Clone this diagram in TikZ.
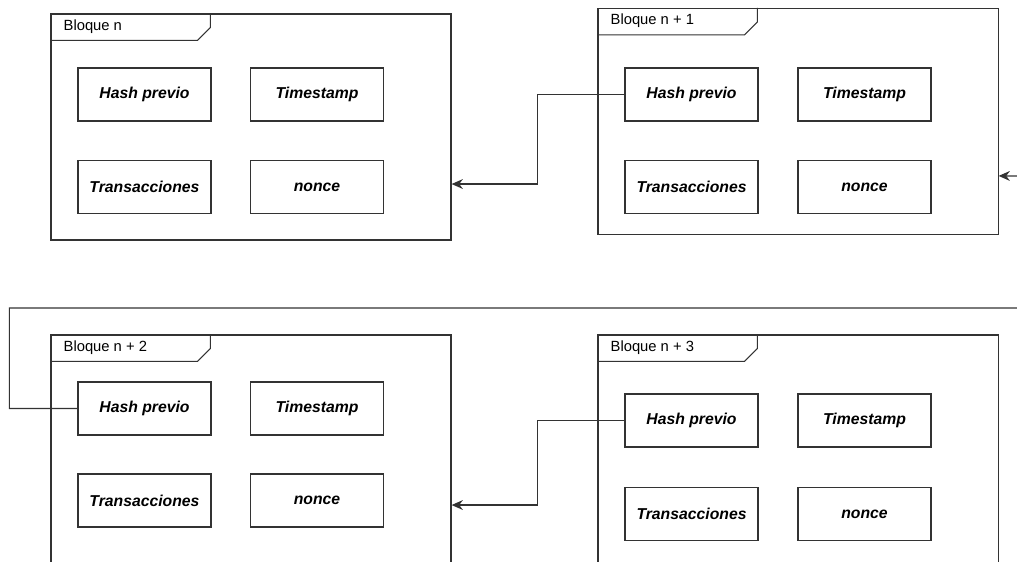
\documentclass[tikz,border=0pt]{standalone}
\usepackage{fontspec}
\setmainfont{Liberation Sans}
\usetikzlibrary{positioning,arrows.meta,calc}
\definecolor{Frame}{HTML}{333333}

\begin{document}
\begin{tikzpicture}[x=0.025cm, y=-0.025cm,
  blockframe/.style={rectangle, draw=Frame, line width=0.8pt, minimum width=10cm, minimum height=5.65cm, inner sep=0pt},
  field/.style={rectangle, draw=Frame, line width=0.8pt, minimum width=3.325cm, minimum height=1.325cm, font=\fontsize{11.2}{13}\selectfont\bfseries\itshape},
  tabtitle/.style={anchor=west, inner sep=0pt, font=\fontsize{10.5}{12}\selectfont},
  link/.style={draw=Frame, line width=0.8pt, -{Stealth[length=8pt,width=7pt]}}]
\useasboundingbox (0,0) rectangle (1017,561);
\clip (0,0) rectangle (1017,561);

% Blocks
\node[blockframe] (blk0) at (251,127) {};
\node[blockframe] (blk1) at (798,121.5) {};
\node[blockframe, minimum height=5.85cm] (blk2) at (251,452) {};
\node[blockframe, minimum height=5.85cm] (blk3) at (798,452) {};

% Tabs with titles
\foreach \b/\t in {blk0/Bloque n, blk1/Bloque n + 1, blk2/Bloque n + 2, blk3/Bloque n + 3} {
  \draw[draw=Frame, line width=0.8pt] (\b.north west) ++(160,0) -- ++(0,14) -- ++(-13,13) -- ($(\b.north west)+(0,27)$);
  \node[tabtitle] (\b-title) at ($(\b.north west)+(13,13)$) {\t};
}

% Block n fields
\node[field] (hash0) at (144.5,94.5) {Hash previo};
\node[field] (time0) at (317,94.5) {Timestamp};
\node[field] (tx0) at (144.5,187) {Transacciones};
\node[field] (nonce0) at (317,187) {nonce};

% Block n+1 fields
\node[field] (hash1) at (691.5,94.5) {Hash previo};
\node[field] (time1) at (864.5,94.5) {Timestamp};
\node[field] (tx1) at (691.5,187) {Transacciones};
\node[field] (nonce1) at (864.5,187) {nonce};

% Block n+2 fields
\node[field] (hash2) at (144.5,408.5) {Hash previo};
\node[field] (time2) at (317,408.5) {Timestamp};
\node[field] (tx2) at (144.5,500.5) {Transacciones};
\node[field] (nonce2) at (317,500.5) {nonce};

% Block n+3 fields
\node[field] (hash3) at (691.5,420.5) {Hash previo};
\node[field] (time3) at (864.5,420.5) {Timestamp};
\node[field] (tx3) at (691.5,514) {Transacciones};
\node[field] (nonce3) at (864.5,514) {nonce};

% Links to previous block
\draw[link] (hash1.west) -- ++(-87,0) |- ([yshift=-1.425cm]blk0.east);
\draw[link] (hash3.west) -- ++(-87,0) |- ([yshift=-1.325cm]blk2.east);
\draw[link] (hash2.west) -- ++(-68,0) -- ++(0,-100.5) -- ++(1030,0) -- ++(0,-132) -- ([yshift=-1.36cm]blk1.east);
\end{tikzpicture}
\end{document}
